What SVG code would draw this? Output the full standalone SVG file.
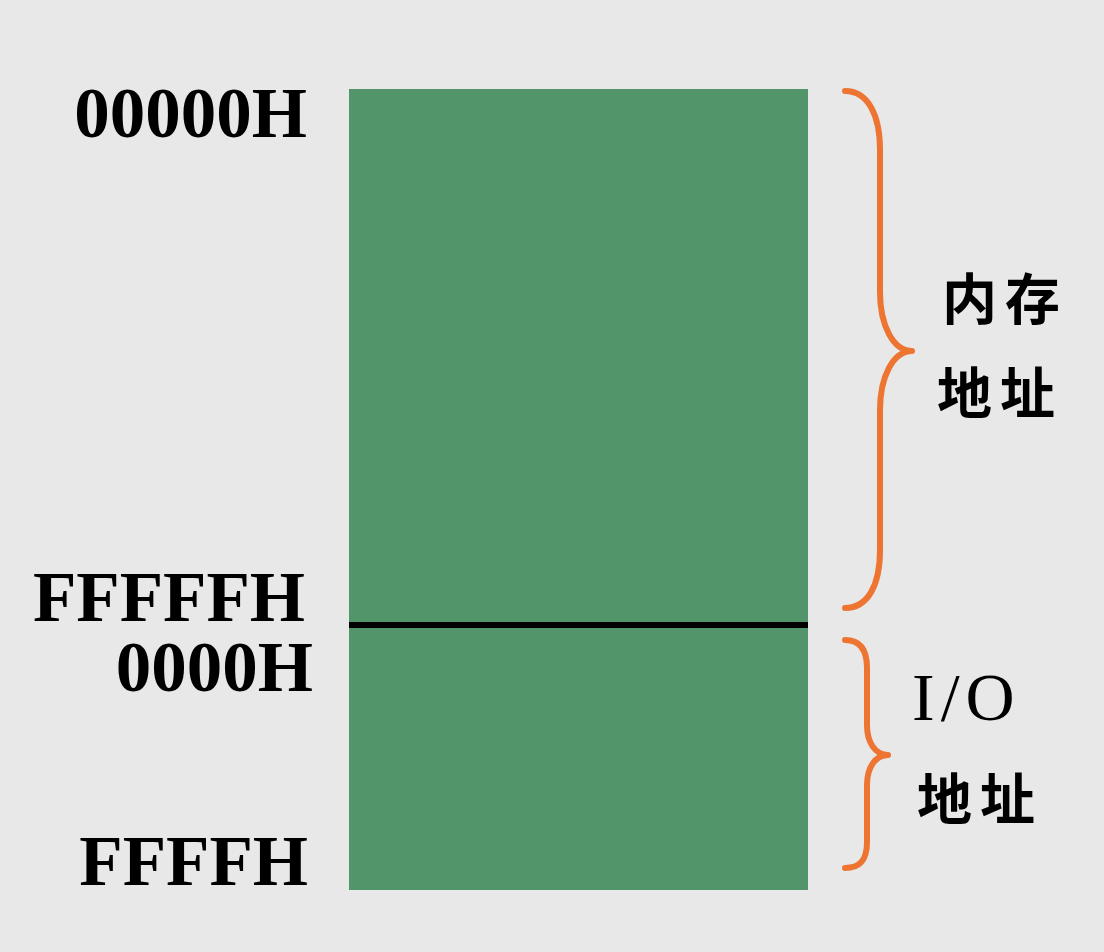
<svg xmlns="http://www.w3.org/2000/svg" width="1104" height="952" viewBox="0 0 1104 952">
<style>
.addr{font-family:"Liberation Serif","Times New Roman",serif;font-weight:bold;font-size:71px;fill:#000;text-anchor:end}
.cjk{font-family:"Noto Sans CJK SC","Noto Sans CJK TC",sans-serif;font-weight:bold;font-size:55px;fill:#000;letter-spacing:8px}
.io{font-family:"Liberation Serif","Times New Roman",serif;font-size:68px;fill:#000;letter-spacing:6px}
.brace{fill:none;stroke:#ED7431;stroke-width:6;stroke-linecap:round;stroke-linejoin:round}
</style>
<rect width="1104" height="952" fill="#E8E8E8"/>
<g id="memory-block">
<rect x="349" y="89" width="459" height="801" fill="#53956A"/>
<line x1="349" y1="625" x2="808" y2="625" stroke="#000" stroke-width="6"/>
</g>
<g id="labels">
<text class="addr" x="307" y="137">00000H</text>
<text class="addr" x="305" y="621">FFFFFH</text>
<text class="addr" x="313" y="691">0000H</text>
<text class="addr" x="308" y="885">FFFFH</text>
</g>
<g id="mem-brace">
<path class="brace" d="M845,91 C868,91 880,115 880,150 L880,292 C880,325 893,351 912,351 C893,351 880,377 880,410 L880,550 C880,585 868,608 845,608"/>
<text class="cjk" x="942" y="319">内存</text>
<text class="cjk" x="937" y="413">地址</text>
</g>
<g id="io-brace">
<path class="brace" d="M845,640 C860,640 867,650 867,668 L867,725 C867,742 875,755 888,755 C875,755 867,768 867,785 L867,842 C867,860 860,868 845,868"/>
<text class="io" x="912" y="720">I/O</text>
<text class="cjk" x="917" y="819">地址</text>
</g>
</svg>
